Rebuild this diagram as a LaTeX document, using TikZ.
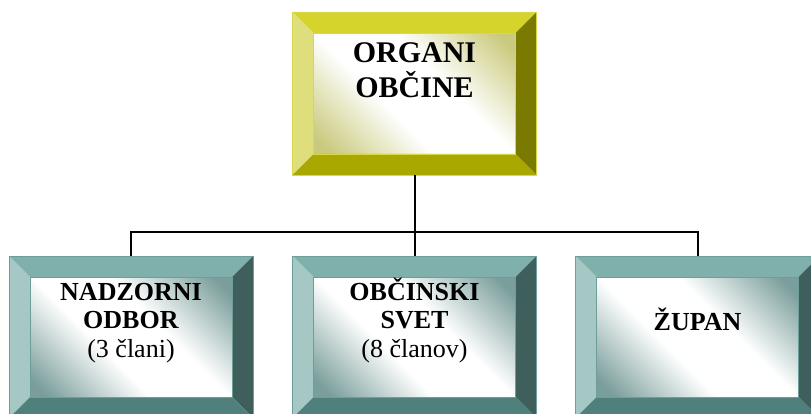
\documentclass[tikz,border=0pt]{standalone}
\usepackage{fontspec}
\setmainfont{Liberation Serif}
\definecolor{ytop}{HTML}{D4D42C}
\definecolor{yleft}{HTML}{DEDE7C}
\definecolor{yright}{HTML}{7A7A00}
\definecolor{ybot}{HTML}{A9A800}
\definecolor{ycorner}{HTML}{CACA7E}
\definecolor{yedge}{HTML}{D8D848}
\definecolor{ttop}{HTML}{80B0AC}
\definecolor{tleft}{HTML}{A6C8C5}
\definecolor{tright}{HTML}{3F5F5D}
\definecolor{tbot}{HTML}{4F807C}
\definecolor{tcorner}{HTML}{7A9E9B}
\definecolor{tedge}{HTML}{6E9E9A}
\pgfdeclareverticalshading{yshade}{100bp}{color(0bp)=(ycorner); color(25bp)=(ycorner); color(43bp)=(white); color(57bp)=(white); color(75bp)=(ycorner); color(100bp)=(ycorner)}
\pgfdeclareverticalshading{tshade}{100bp}{color(0bp)=(tcorner); color(25bp)=(tcorner); color(43bp)=(white); color(57bp)=(white); color(75bp)=(tcorner); color(100bp)=(tcorner)}
\tikzset{
  bevelbox/.style n args={6}{
    rectangle, minimum width=244pt, minimum height=163pt, inner sep=0pt, outer sep=0pt,
    draw=#6, line width=0.6pt,
    path picture={
      \shade[shading=#5, shading angle=-45]
        ([xshift=21pt,yshift=-21pt]path picture bounding box.north west) rectangle
        ([xshift=-21pt,yshift=21pt]path picture bounding box.south east);
      \fill[#1] (path picture bounding box.north west) -- (path picture bounding box.north east)
        -- ([xshift=-21pt,yshift=-21pt]path picture bounding box.north east)
        -- ([xshift=21pt,yshift=-21pt]path picture bounding box.north west) -- cycle;
      \fill[#2] (path picture bounding box.north west) -- (path picture bounding box.south west)
        -- ([xshift=21pt,yshift=21pt]path picture bounding box.south west)
        -- ([xshift=21pt,yshift=-21pt]path picture bounding box.north west) -- cycle;
      \fill[#3] (path picture bounding box.north east) -- (path picture bounding box.south east)
        -- ([xshift=-21pt,yshift=21pt]path picture bounding box.south east)
        -- ([xshift=-21pt,yshift=-21pt]path picture bounding box.north east) -- cycle;
      \fill[#4] (path picture bounding box.south west) -- (path picture bounding box.south east)
        -- ([xshift=-21pt,yshift=21pt]path picture bounding box.south east)
        -- ([xshift=21pt,yshift=21pt]path picture bounding box.south west) -- cycle;
      \draw[#6, line width=0.4pt]
        ([xshift=21pt,yshift=-21pt]path picture bounding box.north west) rectangle
        ([xshift=-21pt,yshift=21pt]path picture bounding box.south east);
    }
  },
  yellowbox/.style={bevelbox={ytop}{yleft}{yright}{ybot}{yshade}{yedge}},
  tealbox/.style={bevelbox={ttop}{tleft}{tright}{tbot}{tshade}{tedge}, minimum height=162pt},
  toptext/.style={align=center, inner sep=0pt, font=\fontsize{30}{35}\selectfont\bfseries},
  boxtext/.style={align=center, inner sep=0pt, font=\fontsize{26}{28.5}\selectfont},
  conn/.style={draw=black, line width=2pt}
}
\begin{document}
\begin{tikzpicture}[x=1pt,y=-1pt]
\useasboundingbox[fill=white] (0,0) rectangle (811,414);
\node[yellowbox] (top) at (414.5,93.5) {};
\node[tealbox] (left) at (131,337) {};
\node[tealbox] (mid) at (414.5,337) {};
\node[tealbox] (right) at (697.5,337) {};
\coordinate (j) at (414.5,232);
\draw[conn] (top.south) -- (mid.north);
\draw[conn] (left.north) -- (left.north |- j) -- (right.north |- j) -- (right.north);
\node[toptext, anchor=base] (ttext) at (414.5,98) {ORGANI\\OBČINE};
\node[boxtext, anchor=base] (ltext) at (131,357) {\textbf{NADZORNI}\\\textbf{ODBOR}\\(3 člani)};
\node[boxtext, anchor=base] (mtext) at (414.5,357) {\textbf{OBČINSKI}\\\textbf{SVET}\\(8 članov)};
\node[boxtext, anchor=base] (rtext) at (697.5,330) {\textbf{ŽUPAN}};
\end{tikzpicture}
\end{document}
